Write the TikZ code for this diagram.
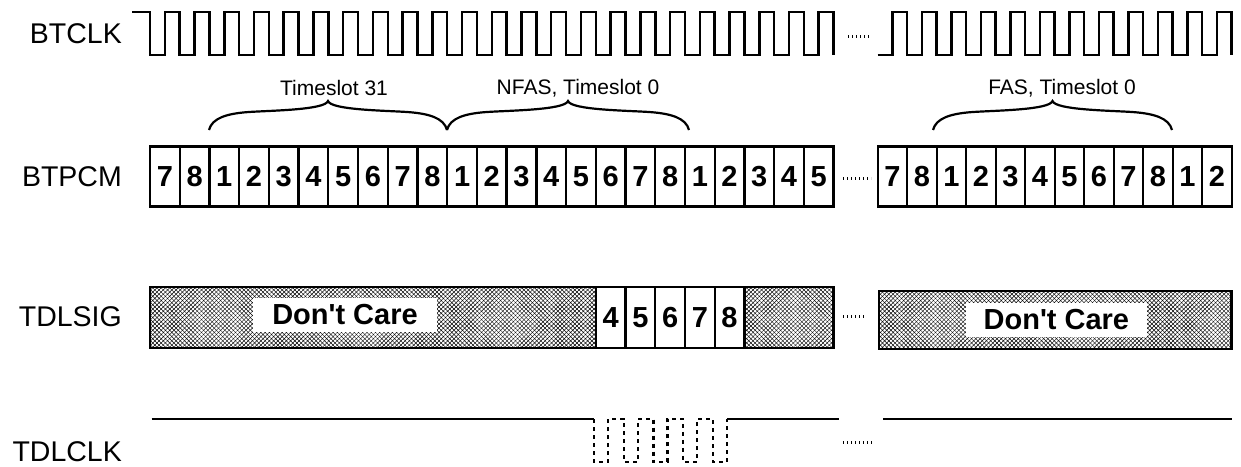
\documentclass[tikz,border=0pt]{standalone}
\usepackage{fontspec}
\newfontfamily\dfont{Liberation Sans}
\usetikzlibrary{patterns.meta}
\tikzset{
  lbl/.style={anchor=east, inner sep=0pt, font=\dfont\fontsize{28.5}{30}\selectfont},
  tslot/.style={inner sep=0pt, font=\dfont\fontsize{21}{23}\selectfont},
  bit/.style={draw=black, line width=2.3pt, inner sep=0pt, minimum width=29.72pt, minimum height=60pt, font=\dfont\bfseries\fontsize{29}{30}\selectfont},
  wave/.style={black, line width=2.5pt, line join=miter},
  dpulse/.style={black, line width=2.3pt, dash pattern=on 4pt off 4pt},
  gap/.style={black, line width=3pt, dash pattern=on 1.2pt off 2.8pt},
  hatch/.style={pattern={Lines[angle=45,distance=3pt,line width=0.45pt]}, postaction={pattern={Lines[angle=-45,distance=3pt,line width=0.45pt]}}},
  dcare/.style={fill=white, inner sep=0pt, font=\dfont\bfseries\fontsize{29}{30}\selectfont},
  brace/.style={black, line width=2.2pt}
}
\newcommand\tsbrace[2]{%
  \pgfmathsetmacro\brmid{(#1+#2)/2}
  \draw[brace] (#1,130) .. controls +(3,-12) and +(-22,1.5) .. ({#1+40},112)
    .. controls +(22,-1.5) and +(-3,9) .. (\brmid,101)
    .. controls +(3,9) and +(-22,-1.5) .. ({#2-40},112)
    .. controls +(22,1.5) and +(-3,-12) .. (#2,130);
}

\begin{document}
\begin{tikzpicture}[x=1pt, y=-1pt]
    \useasboundingbox (0,0) rectangle (1241,466);

    \node[lbl] (btclk) at (122,34) {BTCLK};
    \node[lbl] (btpcm) at (122,176.7) {BTPCM};
    \node[lbl] (tdlsig) at (122,316.7) {TDLSIG};
    \node[lbl] (tdlclk) at (122,451.7) {TDLCLK};

    \draw[wave] (132,12) -- (150,12)
        \foreach \i in {1,...,23} { -- ++(0,43) -- ++(14.86,0) -- ++(0,-43) -- ++(14.86,0) } -- ++(0,43);
    \draw[wave] (877.7,55) -- ++(14.75,0) -- ++(0,-43) -- ++(14.75,0)
        \foreach \i in {1,...,11} { -- ++(0,43) -- ++(14.75,0) -- ++(0,-43) -- ++(14.75,0) } -- ++(0,43);
    \draw[gap] (848,36.7) -- (871,36.7);

    \node[tslot] (ts31) at (334,88) {Timeslot 31};
    \node[tslot] (nfas) at (578,88) {NFAS, Timeslot 0};
    \node[tslot] (fas) at (1062,88) {FAS, Timeslot 0};
    \tsbrace{209}{447}
    \tsbrace{447}{689}
    \tsbrace{933}{1172}

    \foreach \d [count=\i from 0] in {7,8,1,2,3,4,5,6,7,8,1,2,3,4,5,6,7,8,1,2,3,4,5}
        \node[bit] (pcm\i) at ({164.86+29.72*\i},176.5) {\d};
    \foreach \d [count=\i from 0] in {7,8,1,2,3,4,5,6,7,8,1,2}
        \node[bit, minimum width=29.5pt] (fpcm\i) at ({892.45+29.5*\i},176.5) {\d};
    \draw[gap] (843,178) -- (871,178);

    \fill[hatch] (150,287) rectangle (833.6,348);
    \foreach \d [count=\i from 15] in {4,5,6,7,8}
        \node[bit, fill=white, minimum height=61pt] (sig\d) at ({164.86+29.72*\i},317.5) {\d};
    \draw[black, line width=2.8pt] (150,287) rectangle (833.6,348);
    \node[dcare, minimum width=183.7pt, minimum height=33.7pt] (dc1) at (345,315) {Don't Care};
    \draw[gap] (843,316.7) -- (866,316.7);
    \fill[hatch] (879,291) rectangle (1231.7,349);
    \draw[black, line width=2.8pt] (879,291) rectangle (1231.7,349);
    \node[dcare, minimum width=180.7pt, minimum height=33.4pt] (dc2) at (1056.4,320) {Don't Care};

    \draw[wave] (151.7,419) -- (594,419);
    \draw[dpulse] (594,419) -- ++(0,43) -- ++(14,0) -- ++(0,-43)
        \foreach \k in {1,...,4} { -- ++(15.72,0) -- ++(0,43) -- ++(14,0) -- ++(0,-43) };
    \draw[wave] (726.9,419) -- (839.3,419);
    \draw[gap] (843,442.3) -- (872,442.3);
    \draw[wave] (883.3,419) -- (1232.3,419);
\end{tikzpicture}
\end{document}
